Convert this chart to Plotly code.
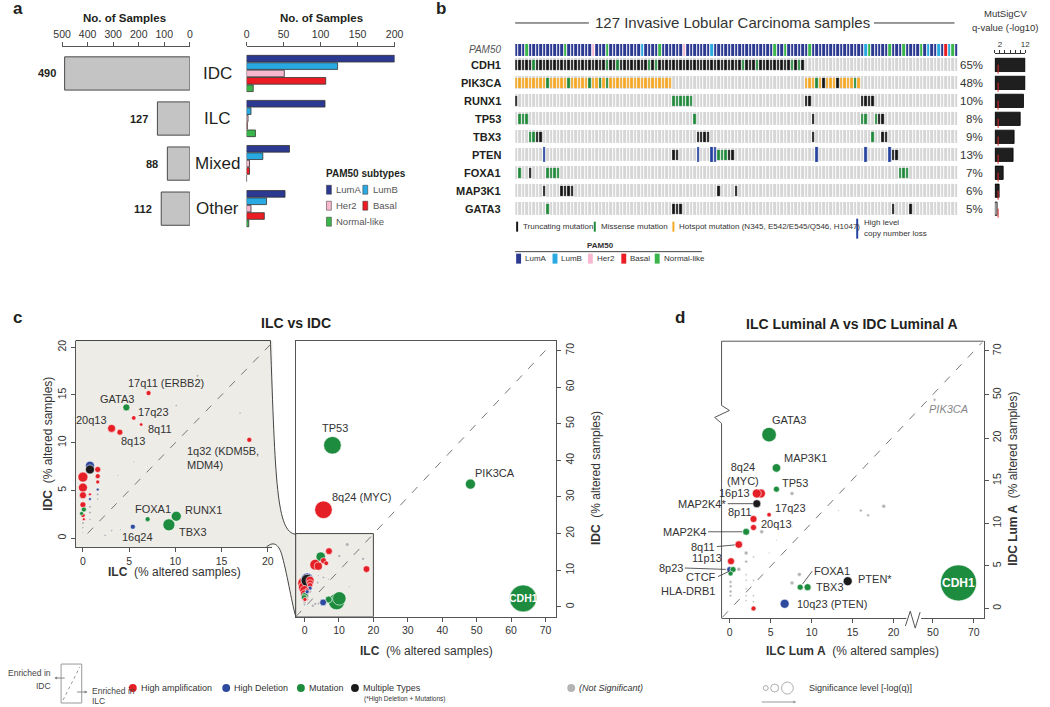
import plotly.graph_objects as go

W, H = 1050, 707

# ================= DATA =================
# ---- panel a ----
GROUPS = ["IDC", "ILC", "Mixed", "Other"]
TOTALS = [490, 127, 88, 112]
SUBTYPES = ["LumA", "LumB", "Her2", "Basal", "Normal-like"]
LUMA = [200, 106, 58, 52]
LUMB = [123, 6, 22, 27]
HER2 = [51, 2, 4, 6]
BASAL = [107, 1, 4, 24]
NORMAL = [9, 12, 0, 3]

# ---- panel b ----
N_SAMPLES = 127
GENES = ["CDH1", "PIK3CA", "RUNX1", "TP53", "TBX3", "PTEN", "FOXA1", "MAP3K1", "GATA3"]
PCT = ["65%", "48%", "10%", "8%", "9%", "13%", "7%", "6%", "5%"]
MUTSIG = [12, 12, 11.3, 10.0, 7.6, 7.2, 3.3, 1.7, 0.9]
SIG_THRESHOLD = 1.3
TRUNC = {
    "CDH1": [0, 1, 2, 3, 4, 6, 7, 8, 9, 10, 11, 12, 13, 14, 15, 16, 17, 18, 19, 20, 21, 22, 23, 24, 25,
             27, 28, 30, 31, 32, 33, 34, 35, 36, 37, 39, 41, 42, 43, 44, 45, 46, 47, 48, 49, 50, 51, 52,
             53, 54, 55, 56, 57, 58, 59, 60, 61, 62, 63, 64, 66, 67, 68, 70, 71, 72, 73, 74, 75, 76, 77,
             78, 80, 82],
    "PIK3CA": [88, 92],
    "RUNX1": [0, 83, 84, 99, 100, 101, 102],
    "TP53": [85, 104, 105],
    "TBX3": [6, 7, 52, 53, 54, 55, 85, 105, 106],
    "PTEN": [45, 46, 61, 62, 108, 109],
    "FOXA1": [4],
    "MAP3K1": [8, 13, 14, 15, 16, 58, 63],
    "GATA3": [45, 46, 47, 108, 113],
}
MISSENSE = {
    "CDH1": [5, 26, 29, 38, 40, 65, 69, 79, 81],
    "PIK3CA": [9, 15, 21, 24, 26, 86, 97],
    "RUNX1": [45, 46, 47, 48, 49, 50],
    "TP53": [1, 2, 3, 51, 99, 100, 103],
    "TBX3": [4, 5, 102],
    "PTEN": [58, 59, 60],
    "FOXA1": [1, 9, 10, 11, 12, 110, 111, 112],
    "GATA3": [9],
}
HOTSPOT = {
    "PIK3CA": [0, 1, 2, 3, 4, 5, 6, 7, 8, 10, 11, 12, 13, 14, 16, 17, 18, 19, 20, 22, 23, 25, 27, 28,
               29, 30, 31, 32, 33, 34, 35, 36, 37, 38, 39, 40, 41, 42, 43, 44, 83, 84, 85, 87, 89, 90,
               91, 93, 94, 95, 96, 98],
}
LOSS = {"PTEN": [8, 52, 56, 57, 86, 100, 107]}
PAM50_LUMB = [36, 56, 100, 118, 121, 124]
PAM50_HER2 = [22, 48]
PAM50_BASAL = [123]
PAM50_NORMAL = [3, 14, 26, 41, 74, 77, 84, 101, 107, 111, 116, 125]

# ---- panel c (ILC vs IDC, % altered samples) ----
C_LABELS = ["17q11 (ERBB2)", "GATA3", "17q23", "8q11", "20q13", "8q13", "1q32 (KDM5B,<br>MDM4)",
            "FOXA1", "RUNX1", "TBX3", "16q24", "TP53", "8q24 (MYC)", "PIK3CA", "CDH1",
            "", "", "", "", "", "", "", "", "", "", "", "", "", "", "", ""]
C_ILC = [7.1, 4.7, 5.5, 6.3, 3.1, 4.0, 18.0, 7.0, 10.1, 9.3, 5.4, 8.1, 5.5, 48.2, 63.5,
         0.0, 0.0, 0.0, 0.0, 0.0, 0.76, 0.76, 1.6, 1.6, 1.6, 1.6, 0.76, 0.76, 0.1, -0.15, 0.1]
C_IDC = [15.2, 13.7, 12.6, 11.9, 11.5, 11.1, 10.3, 2.0, 2.3, 1.4, 1.2, 44.1, 26.5, 33.5, 2.3,
         6.4, 5.3, 4.5, 3.5, 2.4, 7.6, 7.2, 7.2, 6.5, 5.9, 5.1, 4.6, 4.1, 3.0, 2.6, 2.0]
C_TYPE = ["amp", "mut", "amp", "amp", "amp", "amp", "amp", "mut", "mut", "mut", "del", "mut", "amp",
          "mut", "mut", "amp", "amp", "amp", "amp", "amp", "del", "multi", "amp", "amp", "amp", "del",
          "amp", "del", "mut", "mut", "amp"]
C_SIG = [5, 7, 4.5, 3.5, 8, 6, 5, 5, 10, 12, 5, 13, 13, 7.5, 20,
         10, 9, 7, 6, 4.5, 9, 9, 6, 5, 4, 3, 3, 3, 5, 4, 3]
C_NS_ILC = [12.4, 10.1, 17.0, 3.8, 5.5, 1.6, 1.6, 0.76, 0.76, 0.76, 3.1, 2.4, 4.05, 0.0, 0.0, 0.0, 4.0, 7.0, 13.0]
C_NS_IDC = [17.0, 13.9, 13.1, 6.6, 8.0, 4.6, 4.1, 3.3, 2.7, 2.0, 0.8, 0.3, 0.9, 1.6, 1.1, 0.6, 8.5, 7.5, 5.5]
C_NS_SIG = [3, 2.5, 2.5, 2, 2, 3, 2.5, 3, 3, 2.5, 2.5, 2.5, 2, 3, 2.5, 2, 1.5, 1.5, 1.5]

# ---- panel d (ILC Lum A vs IDC Lum A) ----
D_LABELS = ["GATA3", "MAP3K1", "TP53", "8q24<br>(MYC)", "16p13", "MAP2K4*", "17q23", "8p11", "20q13",
            "MAP2K4", "8q11", "11p13", "8p23", "CTCF", "HLA-DRB1", "", "FOXA1", "TBX3", "PTEN*",
            "10q23 (PTEN)", "CDH1", "PIK3CA"]
D_ILC = [4.8, 5.7, 5.7, 3.8, 3.3, 3.3, 4.8, 2.9, 2.9, 2.0, 1.1, 0.15, 0.0, 0.4, 0.1, 2.9, 8.6, 9.5,
         14.4, 6.7, 62.5, 50.8]
D_IDC = [20.4, 16.5, 14.0, 13.5, 13.5, 12.3, 11.0, 10.5, 9.5, 9.0, 7.5, 5.55, 4.57, 4.57, 4.1, 0.0,
         2.5, 2.5, 3.2, 0.55, 3.0, 47.7]
D_TYPE = ["mut", "mut", "mut", "amp", "amp", "multi", "amp", "amp", "amp", "mut", "amp", "amp", "del",
          "mut", "mut", "amp", "mut", "mut", "multi", "del", "mut", "ns"]
D_SIG = [14.5, 8.5, 6, 9, 9, 8, 4.5, 7, 6, 7, 7.5, 7, 6, 6, 5, 5, 6, 7, 9, 9, 36, 3]
D_NS_ILC = [7.6, 8.5, 7.6, 18.8, 16.0, 16.9, 13.3, 3.9, 2.0, 2.0, 1.1, 0.1, 0.1, 0.1, 0.1, 2.9, 2.0,
            2.0, 2.0, 2.0, 2.0, 2.9, 2.9, 2.9, 7.6, 5.7, 4.8]
D_NS_IDC = [13.5, 4.0, 3.0, 12.0, 11.5, 10.95, 11.5, 9.0, 6.5, 5.5, 4.6, 3.1, 2.6, 2.0, 1.5, 6.05, 4.0,
            3.3, 2.3, 1.5, 0.9, 3.3, 1.5, 0.8, 9.6, 8.0, 6.5]
D_NS_SIG = [4, 4, 4, 4, 3, 3, 1.5, 4, 4, 3, 4, 3, 3, 3, 2.5, 2, 2, 2, 2, 2, 2, 2, 2, 2, 1.5, 1.5, 1.5]

# ================= STYLE =================
FONT = "Liberation Sans, Arial, Helvetica, sans-serif"
TXT = "#231f20"
SUB_COLORS = ["#2b3990", "#29a9e1", "#f7b8cf", "#ec1c24", "#3ab54a"]
TYPE_COLORS = {"amp": "#e41f26", "del": "#2e4a9e", "mut": "#1e8c3e", "multi": "#1b1b1b", "ns": "#b4b4b4"}
MUT_COLORS = {"trunc": "#141414", "missense": "#1e8a3a", "hotspot": "#f8a81f", "loss": "#2443a0"}
BEIGE = "#eeece7"
AXC = "#555555"


def X(p):
    return p / W


def Y(p):
    return 1 - p / H


def P(x, y):
    return f"{X(x):.5f},{Y(y):.5f}"


annotations = []
shapes = []


def text(s, x, y, size=10, color=TXT, xanchor="center", yanchor="middle", angle=0):
    annotations.append(dict(text=s, x=X(x), y=Y(y), xref="paper", yref="paper", showarrow=False,
                            font=dict(size=size, color=color, family=FONT), xanchor=xanchor,
                            yanchor=yanchor, textangle=angle))


def hline(x0, x1, y, color="#333", width=1, dash="solid"):
    shapes.append(dict(type="line", xref="paper", yref="paper", x0=X(x0), x1=X(x1), y0=Y(y), y1=Y(y),
                       line=dict(color=color, width=width, dash=dash)))


def line(x0, y0, x1, y1, color="#333", width=1, dash="solid"):
    shapes.append(dict(type="line", xref="paper", yref="paper", x0=X(x0), x1=X(x1), y0=Y(y0), y1=Y(y1),
                       line=dict(color=color, width=width, dash=dash)))


def rect(x0, y0, x1, y1, fill, lc=None, lw=0, layer="above"):
    shapes.append(dict(type="rect", xref="paper", yref="paper", x0=X(x0), x1=X(x1), y0=Y(y1), y1=Y(y0),
                       fillcolor=fill, line=dict(color=lc or fill, width=lw), layer=layer))


def dot(cx, cy, d, fill, lc=None, lw=0):
    shapes.append(dict(type="circle", xref="paper", yref="paper", x0=X(cx - d / 2), x1=X(cx + d / 2),
                       y0=Y(cy + d / 2), y1=Y(cy - d / 2), fillcolor=fill,
                       line=dict(color=lc or fill, width=lw)))


fig = go.Figure()

ax_common = dict(showgrid=False, zeroline=False, showline=True, linecolor=AXC, linewidth=1,
                 ticks="outside", ticklen=4, tickcolor=AXC,
                 tickfont=dict(size=10.5, color="#333", family=FONT))

# ================= PANEL a =================
fig.add_trace(go.Bar(x=TOTALS, y=GROUPS, orientation="h", xaxis="x", yaxis="y",
                     marker=dict(color="#c4c4c4", line=dict(color="#4a4a4a", width=1)),
                     showlegend=False, hoverinfo="skip"))
for name, vals, col in zip(SUBTYPES, [LUMA, LUMB, HER2, BASAL, NORMAL], SUB_COLORS):
    fig.add_trace(go.Bar(x=vals, y=GROUPS, orientation="h", xaxis="x2", yaxis="y2", name=name,
                         marker=dict(color=col, line=dict(color="#333", width=0.8)),
                         showlegend=False, hoverinfo="skip"))

for g, t in zip(GROUPS, TOTALS):
    annotations.append(dict(text=f"<b>{t}</b>", x=t, y=g, xref="x", yref="y", xanchor="right",
                            xshift=-7, showarrow=False, font=dict(size=11, color=TXT, family=FONT)))
    annotations.append(dict(text=g, x=X(212), y=g, xref="paper", yref="y", xanchor="center",
                            showarrow=False, font=dict(size=17, color=TXT, family=FONT)))

text("<b>a</b>", 2, 8, size=17, xanchor="left")
text("<b>No. of Samples</b>", 118, 17, size=11.5)
text("<b>No. of Samples</b>", 318, 17, size=11.5)

# PAM50 subtypes legend (panel a)
text("<b>PAM50 subtypes</b>", 321, 173, size=10, xanchor="left")
leg_a = [(0, 323, 189), (1, 360, 189), (2, 323, 205), (3, 360, 205), (4, 323, 221)]
for k, lx, ly in leg_a:
    rect(lx, ly - 4.5, lx + 5, ly + 4.5, SUB_COLORS[k], "#333", 0.5)
    text(SUBTYPES[k], lx + 8, ly, size=9.5, color="#555", xanchor="left")

# ================= PANEL b =================
gene_idx = {g: i for i, g in enumerate(GENES)}


def mark_matrix(d):
    z = [[None] * N_SAMPLES for _ in GENES]
    for g, cols in d.items():
        for c in cols:
            z[gene_idx[g]][c] = 1
    return z


cols_x = list(range(N_SAMPLES))
fig.add_trace(go.Heatmap(z=[[1] * N_SAMPLES for _ in GENES], x=cols_x, y=GENES, xaxis="x3", yaxis="y3",
                         colorscale=[[0, "#d6d6d6"], [1, "#d6d6d6"]], showscale=False, xgap=1, ygap=5,
                         hoverinfo="skip"))
for key, dct, gap in [("loss", LOSS, 3), ("trunc", TRUNC, 8), ("missense", MISSENSE, 8),
                      ("hotspot", HOTSPOT, 8)]:
    c = MUT_COLORS[key]
    fig.add_trace(go.Heatmap(z=mark_matrix(dct), x=cols_x, y=GENES, xaxis="x3", yaxis="y3",
                             colorscale=[[0, c], [1, c]], showscale=False, xgap=1.2, ygap=gap,
                             hoverinfo="skip"))

pam_row = [0] * N_SAMPLES
for k, lst in [(1, PAM50_LUMB), (2, PAM50_HER2), (3, PAM50_BASAL), (4, PAM50_NORMAL)]:
    for c in lst:
        pam_row[c] = k
pam_scale = []
for k, col in enumerate(SUB_COLORS):
    pam_scale += [[k / 5, col], [(k + 1) / 5, col]]
fig.add_trace(go.Heatmap(z=[pam_row], x=cols_x, y=["PAM50"], xaxis="x3", yaxis="y4", zmin=-0.5, zmax=4.5,
                         colorscale=pam_scale, showscale=False, xgap=1, hoverinfo="skip"))

fig.add_trace(go.Bar(x=MUTSIG, y=GENES, orientation="h", xaxis="x5", yaxis="y5",
                     marker=dict(color=["#1f1f1f" if v > SIG_THRESHOLD else "#c8c8c8" for v in MUTSIG],
                                 line=dict(color="#000", width=0.8)),
                     showlegend=False, hoverinfo="skip"))
shapes.append(dict(type="line", xref="x5", yref="paper", x0=SIG_THRESHOLD, x1=SIG_THRESHOLD,
                   y0=Y(217), y1=Y(55), line=dict(color="#e0262b", width=1, dash="dash")))

for g, p in zip(GENES, PCT):
    annotations.append(dict(text=f"<b>{g}</b>", x=X(503), y=g, xref="paper", yref="y3", xanchor="right",
                            showarrow=False, font=dict(size=11, color=TXT, family=FONT)))
    annotations.append(dict(text=p, x=X(993), y=g, xref="paper", yref="y3", xanchor="right",
                            showarrow=False, font=dict(size=11.5, color="#333", family=FONT)))
text("<i>PAM50</i>", 503, 49, size=10, color="#555", xanchor="right")

text("<b>b</b>", 432, 8, size=17, xanchor="left")
text("127 Invasive Lobular Carcinoma samples", 736, 22, size=15, color="#333")
hline(515, 590, 22)
hline(880, 962, 22)
text("MutSigCV", 1014, 13, size=9.5, color="#333")
text("q-value (-log10)", 1014, 27, size=9.5, color="#333")

# oncoprint legend
ly = 226
for lx, key, lab in [(516, "trunc", "Truncating mutation"), (595, "missense", "Missense mutation"),
                     (675, "hotspot", "Hotspot mutation (N345, E542/E545/Q546, H1047)")]:
    rect(lx, ly - 5, lx + 2, ly + 5, MUT_COLORS[key])
    text(lab, lx + 5, ly, size=8, color="#333", xanchor="left")
rect(862, 218, 864, 238, MUT_COLORS["loss"])
text("High level", 868, 222, size=8, color="#333", xanchor="left")
text("copy number loss", 868, 233, size=8, color="#333", xanchor="left")
text("<b>PAM50</b>", 602, 245, size=8, color="#333")
hline(515, 705, 251, color="#444", width=1)
for k, lx in enumerate([516, 553, 589, 623, 657]):
    rect(lx, 253, lx + 5, 263, SUB_COLORS[k])
    text(SUBTYPES[k], lx + 7, 258, size=8, color="#333", xanchor="left")

# ================= PANEL c =================
text("<b>c</b>", 2, 317, size=17, xanchor="left")
text("<b>ILC vs IDC</b>", 292, 322, size=14)

# inset background + funnel
rect(67.7, 340, 268, 546.7, BEIGE, layer="below")
shapes.append(dict(type="path", xref="paper", yref="paper",
                   path=f"M {P(266, 340)} C {P(271, 480)} {P(272, 533)} {P(292, 534)} L {P(292, 617)} "
                        f"C {P(288, 605)} {P(284, 578)} {P(278, 556)} C {P(275, 545)} {P(271, 540)} "
                        f"{P(264, 546.7)} Z",
                   fillcolor=BEIGE, line=dict(width=0), layer="below"))
shapes.append(dict(type="path", xref="paper", yref="paper",
                   path=f"M {P(266, 340)} C {P(271, 480)} {P(272, 533)} {P(292, 534)}",
                   line=dict(color="#444", width=1)))
shapes.append(dict(type="path", xref="paper", yref="paper",
                   path=f"M {P(262, 546.7)} C {P(270, 540)} {P(275, 545)} {P(278, 556)} "
                        f"C {P(284, 578)} {P(288, 605)} {P(292, 617)}",
                   line=dict(color="#444", width=1)))
hline(67.7, 266, 340, color="#444")

C_MAIN_RANGE_X = [-2.57, 73.1]
C_MAIN_RANGE_Y = [-2.73, 72.7]
shapes.append(dict(type="rect", xref="x7", yref="y7", x0=C_MAIN_RANGE_X[0], x1=20, y0=C_MAIN_RANGE_Y[0],
                   y1=20, fillcolor=BEIGE, line=dict(color="#444", width=1), layer="below"))
shapes.append(dict(type="line", xref="x6", yref="y6", x0=0.5, y0=0.5, x1=20.5, y1=20.5,
                   line=dict(color="#777", width=1, dash="8px,9px")))
shapes.append(dict(type="line", xref="x7", yref="y7", x0=C_MAIN_RANGE_X[0], y0=C_MAIN_RANGE_Y[0], x1=70.5,
                   y1=70.5, line=dict(color="#777", width=1, dash="8px,9px")))


def scatter_traces(xs, ys, types, sig, xa, ya, scale=1.0, clip=True):
    order = sorted(range(len(xs)), key=lambda i: -sig[i])
    fig.add_trace(go.Scatter(x=[xs[i] for i in order], y=[ys[i] for i in order], mode="markers",
                             xaxis=xa, yaxis=ya, cliponaxis=clip, showlegend=False, hoverinfo="skip",
                             marker=dict(size=[sig[i] * scale for i in order],
                                         color=[TYPE_COLORS[types[i]] for i in order],
                                         line=dict(color="white", width=0.6), opacity=1)))


# inset
scatter_traces(C_NS_ILC, C_NS_IDC, ["ns"] * len(C_NS_ILC), C_NS_SIG, "x6", "y6", scale=1.0)
scatter_traces(C_ILC, C_IDC, C_TYPE, C_SIG, "x6", "y6", scale=1.0)
# main
scatter_traces(C_NS_ILC, C_NS_IDC, ["ns"] * len(C_NS_ILC), C_NS_SIG, "x7", "y7", scale=1.35)
scatter_traces(C_ILC, C_IDC, C_TYPE, C_SIG, "x7", "y7", scale=1.35)

C_INSET_POS = {
    "17q11 (ERBB2)": (17, 10, "center"), "GATA3": (-9, 8, "center"), "17q23": (2, 6, "left"),
    "8q11": (5, -4, "left"), "20q13": (-3, 8, "right"), "8q13": (-1, -9, "left"),
    "1q32 (KDM5B,<br>MDM4)": (-64, -18, "left"), "FOXA1": (5, 10, "center"), "RUNX1": (7, 6, "left"),
    "TBX3": (8, -7, "left"), "16q24": (5, -10, "center"),
}
C_MAIN_POS = {"TP53": (3, 17, "center"), "8q24 (MYC)": (7, 13, "left"), "PIK3CA": (3, 11, "left")}
for lab, xv, yv in zip(C_LABELS, C_ILC, C_IDC):
    if lab in C_INSET_POS:
        dx, dy, xa = C_INSET_POS[lab]
        annotations.append(dict(text=lab, x=xv, y=yv, xref="x6", yref="y6", xshift=dx, yshift=dy,
                                xanchor=xa, align="left", showarrow=False,
                                font=dict(size=11, color="#333", family=FONT)))
    if lab in C_MAIN_POS:
        dx, dy, xa = C_MAIN_POS[lab]
        annotations.append(dict(text=lab, x=xv, y=yv, xref="x7", yref="y7", xshift=dx, yshift=dy,
                                xanchor=xa, showarrow=False, font=dict(size=11, color="#333", family=FONT)))
    if lab == "CDH1":
        annotations.append(dict(text="<b>CDH1</b>", x=xv, y=yv, xref="x7", yref="y7", showarrow=False,
                                font=dict(size=10.5, color="white", family=FONT)))

text("<b>IDC</b>  (% altered samples)", 40, 443, size=12, color="#333", angle=-90)
text("<b>ILC</b>  (% altered samples)", 168, 572, size=12, color="#333")
text("<b>IDC</b>  (% altered samples)", 598, 478, size=12, color="#333", angle=-90)
text("<b>ILC</b>  (% altered samples)", 425, 651, size=12, color="#333")

# ================= PANEL d =================
text("<b>d</b>", 676, 317, size=17, xanchor="left")
text("<b>ILC Luminal A vs IDC Luminal A</b>", 858, 323, size=14)

D_XBREAK, D_YBREAK = 30, 30


def d_axes(xv, yv):
    return ("x9" if xv > D_XBREAK else "x8"), ("y9" if yv > D_YBREAK else "y8")


for xs, ys, tys, sg in [(D_NS_ILC, D_NS_IDC, ["ns"] * len(D_NS_ILC), D_NS_SIG),
                        (D_ILC, D_IDC, D_TYPE, D_SIG)]:
    groups = {}
    for i in range(len(xs)):
        groups.setdefault(d_axes(xs[i], ys[i]), []).append(i)
    for (xa, ya), idx in groups.items():
        scatter_traces([xs[i] for i in idx], [ys[i] for i in idx], [tys[i] for i in idx],
                       [sg[i] for i in idx], xa, ya, clip=False)

D_POS = {
    "GATA3": (1, 15, "left"), "MAP3K1": (6, 10, "left"), "TP53": (4, 6, "left"),
    "8q24<br>(MYC)": (-18, 19, "center"), "16p13": (-5, 0, "right"), "8p11": (-14, 7, "center"),
    "17q23": (4, 7, "left"), "20q13": (5, 4, "left"), "11p13": (-7, 3, "right"),
    "HLA-DRB1": (-14, -17, "right"), "TBX3": (6, 0, "left"), "PTEN*": (8, 2, "left"),
    "10q23 (PTEN)": (10, 0, "left"),
}
D_ARROW = {"MAP2K4*": (-29, 0), "MAP2K4": (-38, 0), "8q11": (-22, 2), "8p23": (-45, -1.5),
           "CTCF": (-15, 7), "FOXA1": (12, -16)}
for lab, xv, yv in zip(D_LABELS, D_ILC, D_IDC):
    xa, ya = d_axes(xv, yv)
    fnt = dict(size=11, color="#333", family=FONT)
    if lab in D_POS:
        dx, dy, anc = D_POS[lab]
        annotations.append(dict(text=lab, x=xv, y=yv, xref=xa, yref=ya, xshift=dx, yshift=dy,
                                xanchor=anc, showarrow=False, font=fnt))
    elif lab in D_ARROW:
        axp, ayp = D_ARROW[lab]
        annotations.append(dict(text=lab, x=xv, y=yv, xref=xa, yref=ya, ax=axp, ay=ayp,
                                xanchor="left" if axp > 0 else "right", showarrow=True, arrowhead=0,
                                arrowwidth=0.8, arrowcolor="#333", standoff=4, font=fnt))
    elif lab == "CDH1":
        annotations.append(dict(text="<b>CDH1</b>", x=xv, y=yv, xref=xa, yref=ya, showarrow=False,
                                font=dict(size=12, color="white", family=FONT)))
    elif lab == "PIK3CA":
        annotations.append(dict(text="<i>PIK3CA</i>", x=xv, y=yv, xref=xa, yref=ya, xshift=-8, yshift=-9,
                                xanchor="left", showarrow=False,
                                font=dict(size=11, color="#888", family=FONT)))

# box edges and breaks
hline(725, 991.7, 340.7, color=AXC)
line(725, 340.7, 725, 405, color=AXC)
line(725, 423, 725, 618.3, color=AXC)
shapes.append(dict(type="path", xref="paper", yref="paper",
                   path=f"M {P(725, 405)} L {P(733, 410)} L {P(718, 417)} L {P(725, 423)}",
                   line=dict(color=AXC, width=1)))
rect(913, 616, 928, 621, "white")
shapes.append(dict(type="path", xref="paper", yref="paper",
                   path=f"M {P(912, 626)} L {P(917, 611)} L {P(922, 628)} L {P(927, 612)}",
                   line=dict(color=AXC, width=1)))
line(726, 617, 990, 342, color="#777", dash="8px,9px")

text("<b>IDC Lum A</b>  (% altered samples)", 1022, 478, size=12, color="#333", angle=-90)
text("<b>ILC Lum A</b>  (% altered samples)", 858, 651, size=12, color="#333")

# ================= bottom legend =================
LY = 688
text("Enriched in", 45, 673, size=8.5, color="#444", xanchor="right")
text("IDC", 45, 686, size=8.5, color="#444", xanchor="right")
annotations.append(dict(x=X(46), y=Y(678), xref="paper", yref="paper", ax=12, ay=0, text="",
                        showarrow=True, arrowhead=2, arrowsize=0.6, arrowwidth=1, arrowcolor="#888"))
rect(53, 664, 74, 703, "white", "#999", 1)
line(55, 700, 72, 667, color="#999", dash="3px,3px")
annotations.append(dict(x=X(80), y=Y(692), xref="paper", yref="paper", ax=-12, ay=0, text="",
                        showarrow=True, arrowhead=2, arrowsize=0.6, arrowwidth=1, arrowcolor="#888"))
text("Enriched in", 82, 691, size=8.5, color="#444", xanchor="left")
text("ILC", 82, 701, size=8.5, color="#444", xanchor="left")

for cx, key, lab in [(126, "amp", "High amplification"), (221, "del", "High Deletion"),
                     (297, "mut", "Mutation"), (352, "multi", "Multiple Types")]:
    dot(cx, LY, 8, TYPE_COLORS[key])
    text(lab, cx + 6, LY, size=9, color="#333", xanchor="left")
text("(*High Deletion + Mutations)", 359, 699, size=6.5, color="#333", xanchor="left")
dot(572, LY, 8, TYPE_COLORS["ns"])
text("<i>(Not Significant)</i>", 578, LY, size=9, color="#333", xanchor="left")
dot(770, LY, 5, "white", "#999", 0.8)
dot(779, LY, 8, "white", "#999", 0.8)
dot(792, LY, 12, "white", "#999", 0.8)
text("Significance level [-log(q)]", 812, LY, size=9, color="#333", xanchor="left")
annotations.append(dict(x=X(801), y=Y(702), xref="paper", yref="paper", ax=-36, ay=0, text="",
                        showarrow=True, arrowhead=2, arrowsize=0.6, arrowwidth=1, arrowcolor="#999"))

# ================= LAYOUT =================
cat_y = dict(type="category", categoryorder="array", autorange="reversed", visible=False)
fig.update_layout(
    width=W, height=H, margin=dict(l=0, r=0, t=0, b=0), paper_bgcolor="white", plot_bgcolor="rgba(0,0,0,0)",
    font=dict(family=FONT, color=TXT), barmode="group", bargap=0.18, bargroupgap=0.1, showlegend=False,
    xaxis=dict(domain=[X(54), X(184)], range=[500, 0], side="top", anchor="free", position=Y(45),
               tickvals=[0, 100, 200, 300, 400, 500], **ax_common),
    yaxis=dict(domain=[Y(230.5), Y(50)], categoryarray=GROUPS, anchor="x", **cat_y),
    xaxis2=dict(domain=[X(241.7), X(392.3)], range=[0, 200], side="top", anchor="free", position=Y(45),
                tickvals=[0, 50, 100, 150, 200], **ax_common),
    yaxis2=dict(domain=[Y(230.5), Y(50)], categoryarray=GROUPS, anchor="x2", **cat_y),
    xaxis3=dict(domain=[X(515), X(966)], range=[-0.5, N_SAMPLES - 0.5], anchor="y3", visible=False),
    yaxis3=dict(domain=[Y(217), Y(55)], categoryarray=GENES, anchor="x3", **cat_y),
    yaxis4=dict(domain=[Y(55), Y(43)], anchor="x3", visible=False),
    xaxis5=dict(domain=[X(1003), X(1034)], range=[0, 12], side="top", anchor="free", position=Y(52),
                tickvals=[0, 2, 4, 6, 8, 10, 12], ticktext=["", "2", "", "", "", "", "12"],
                showgrid=False, zeroline=False, showline=True, linecolor="#333", ticks="outside",
                ticklen=3, tickcolor="#333", tickfont=dict(size=8, color="#333", family=FONT)),
    yaxis5=dict(domain=[Y(217), Y(55)], categoryarray=GENES, anchor="x5", **cat_y),
    xaxis6=dict(domain=[X(67.7), X(268)], range=[-0.8, 20.5], anchor="y6", tickvals=[0, 5, 10, 15, 20],
                **ax_common),
    yaxis6=dict(domain=[Y(546.7), Y(340)], range=[-0.91, 20.7], anchor="x6", tickvals=[0, 5, 10, 15, 20],
                tickangle=-90, **ax_common),
    xaxis7=dict(domain=[X(291.7), X(556.7)], range=C_MAIN_RANGE_X, anchor="y7", mirror=True,
                tickvals=[0, 10, 20, 30, 40, 50, 60, 70], **ax_common),
    yaxis7=dict(domain=[Y(616.7), Y(340)], range=C_MAIN_RANGE_Y, anchor="x7", side="right", mirror=True,
                tickvals=[0, 10, 20, 30, 40, 50, 60, 70], tickangle=-90, **ax_common),
    xaxis8=dict(domain=[X(725), X(920)], range=[-1.0, 22.4], anchor="y8", tickvals=[0, 5, 10, 15, 20],
                **ax_common),
    xaxis9=dict(domain=[X(920), X(991.7)], range=[40.4, 74.8], anchor="y8", tickvals=[50, 70], **ax_common),
    yaxis8=dict(domain=[Y(618.3), Y(415)], range=[-1.17, 22.66], anchor="x9", side="right",
                tickvals=[0, 5, 10, 15, 20], tickangle=-90, **ax_common),
    yaxis9=dict(domain=[Y(415), Y(340.7)], range=[40.6, 74.4], anchor="x9", side="right",
                tickvals=[50, 70], tickangle=-90, **ax_common),
    annotations=annotations, shapes=shapes,
)

fig.write_html("out.html", config={"displayModeBar": False, "staticPlot": True},
               post_script="document.body.style.margin='0';document.body.style.overflow='hidden';"
                           "window.dispatchEvent(new Event('resize'));")
